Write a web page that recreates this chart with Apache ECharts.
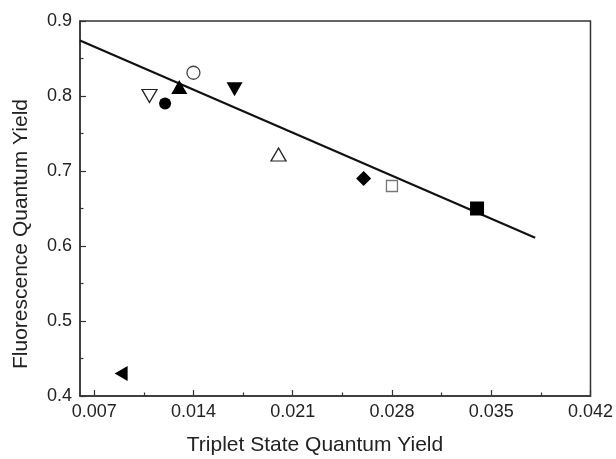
<!DOCTYPE html>
<html>
<head>
<meta charset="utf-8">
<script src="https://cdn.jsdelivr.net/npm/echarts@6/dist/echarts.min.js"></script>
<style>
  html, body { margin: 0; padding: 0; background: #fff; }
  #chart { width: 616px; height: 459px; }
</style>
</head>
<body>
<div id="chart"></div>
<script>
// measured points (triplet yield, fluorescence yield)
var tripletYield = [0.0089, 0.0109, 0.0120, 0.0130, 0.0140, 0.0169, 0.0200, 0.0260, 0.0280, 0.0340];
var fluorYield   = [0.430,  0.800,  0.790,  0.812,  0.831,  0.809,  0.722,  0.690,  0.680,  0.650];

// straight fit line end points
var fitX = [0.0060, 0.0381];
var fitY = [0.874, 0.611];

var xMajorTicks = [0.007, 0.014, 0.021, 0.028, 0.035, 0.042];
var xMinorTicks = [0.0105, 0.0175, 0.0245, 0.0315, 0.0385];

// marker style for each point, same order as the data
var markers = [
    { symbol: 'triangle', size: [15, 13], rotate: 90,  fill: '#000', stroke: '#000' },
    { symbol: 'triangle', size: [15, 13], rotate: 180, fill: '#fff', stroke: '#222' },
    { symbol: 'circle',   size: 12,       rotate: 0,   fill: '#000', stroke: '#000' },
    { symbol: 'triangle', size: [16, 14], rotate: 0,   fill: '#000', stroke: '#000' },
    { symbol: 'circle',   size: 13,       rotate: 0,   fill: '#fff', stroke: '#444' },
    { symbol: 'triangle', size: [16, 14], rotate: 180, fill: '#000', stroke: '#000' },
    { symbol: 'triangle', size: [15, 13], rotate: 0,   fill: '#fff', stroke: '#222' },
    { symbol: 'diamond',  size: 15,       rotate: 0,   fill: '#000', stroke: '#000' },
    { symbol: 'rect',     size: 11,       rotate: 0,   fill: '#fff', stroke: '#777' },
    { symbol: 'rect',     size: 14,       rotate: 0,   fill: '#000', stroke: '#000' }
];

var chart = echarts.init(document.getElementById('chart'));
var font = 'Liberation Sans, Arial, Helvetica, sans-serif';

var series = [{
    type: 'line',
    data: [[fitX[0], fitY[0]], [fitX[1], fitY[1]]],
    symbol: 'none',
    lineStyle: { color: '#111', width: 2.2 },
    z: 2,
    animation: false
}];

for (var i = 0; i < tripletYield.length; i++) {
    var m = markers[i];
    series.push({
        type: 'scatter',
        data: [[tripletYield[i], fluorYield[i]]],
        symbol: m.symbol,
        symbolSize: m.size,
        symbolRotate: m.rotate,
        itemStyle: { color: m.fill, borderColor: m.stroke, borderWidth: m.fill === '#fff' ? 1.3 : 0, opacity: 1 },
        z: 3,
        animation: false
    });
}

var option = {
    backgroundColor: '#fff',
    animation: false,
    grid: {
        left: 80, right: 24, top: 21, bottom: 63,
        show: true,
        borderColor: '#333',
        borderWidth: 1.5
    },
    xAxis: [{
        type: 'value',
        min: 0.006,
        max: 0.042,
        axisLine: { show: true, lineStyle: { color: '#333', width: 1.5 } },
        axisTick: { show: true, inside: true, length: 6, customValues: xMajorTicks, lineStyle: { color: '#333', width: 1.2 } },
        axisLabel: {
            customValues: xMajorTicks,
            formatter: function (v) { return v.toFixed(3); },
            color: '#222', fontSize: 18, fontFamily: font, margin: 7
        },
        splitLine: { show: false }
    }, {
        type: 'value',
        min: 0.006,
        max: 0.042,
        position: 'bottom',
        axisLine: { show: false },
        axisTick: { show: true, inside: true, length: 3.5, customValues: xMinorTicks, lineStyle: { color: '#333', width: 1.2 } },
        axisLabel: { show: false },
        splitLine: { show: false }
    }],
    yAxis: {
        type: 'value',
        min: 0.4,
        max: 0.9,
        interval: 0.1,
        axisLine: { show: true, lineStyle: { color: '#333', width: 1.5 } },
        axisTick: { show: true, inside: true, length: 6, lineStyle: { color: '#333', width: 1.2 } },
        minorTick: { show: true, splitNumber: 2, length: 3.5, lineStyle: { color: '#333', width: 1.2 } },
        axisLabel: {
            formatter: function (v) { return v.toFixed(1); },
            color: '#222', fontSize: 18, fontFamily: font, margin: 8
        },
        splitLine: { show: false },
        minorSplitLine: { show: false }
    },
    graphic: [{
        type: 'text',
        x: 315, y: 445,
        style: {
            text: 'Triplet State Quantum Yield',
            fill: '#222', font: '21px ' + font,
            textAlign: 'center', textVerticalAlign: 'middle'
        }
    }, {
        type: 'text',
        x: 21, y: 234,
        rotation: Math.PI / 2,
        style: {
            text: 'Fluorescence Quantum Yield',
            fill: '#222', font: '21px ' + font,
            textAlign: 'center', textVerticalAlign: 'middle'
        }
    }],
    series: series
};

chart.setOption(option);
</script>
</body>
</html>
